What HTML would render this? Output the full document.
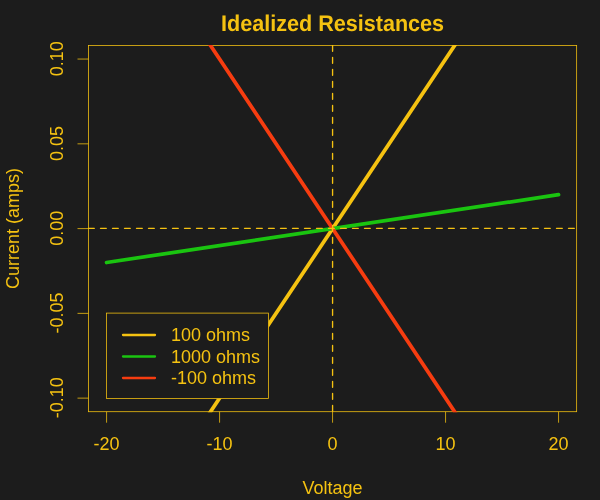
<!DOCTYPE html>
<html><head><meta charset="utf-8"><title>Idealized Resistances</title>
<style>
html,body{margin:0;padding:0;background:#1c1c1c;}
svg{display:block;will-change:transform}
text{font-family:"Liberation Sans",Arial,sans-serif;fill:#f5c211;}
</style></head><body>
<svg width="600" height="500" viewBox="0 0 600 500">
<rect width="600" height="500" fill="#1c1c1c"/>
<defs><clipPath id="c"><rect x="88.0" y="45.0" width="489.15" height="367.2"/></clipPath></defs>
<rect x="88.5" y="45.5" width="488.15" height="366.2" fill="none" stroke="#f5c211" stroke-width="0.78"/>
<g clip-path="url(#c)" fill="none" stroke-linecap="round">
<line x1="106.58" y1="567.67" x2="558.57" y2="-110.47" stroke="#f5c211" stroke-width="3.75"/>
<line x1="106.58" y1="262.51" x2="558.57" y2="194.69" stroke="#1ac410" stroke-width="3.75"/>
<line x1="106.58" y1="-110.47" x2="558.57" y2="567.67" stroke="#f63c10" stroke-width="3.75"/>
<line x1="88.5" y1="228.35" x2="576.65" y2="228.35" stroke="#f5c211" stroke-width="1.35" stroke-dasharray="5.8 6.2" stroke-linecap="round"/>
<line x1="332.575" y1="45.5" x2="332.575" y2="411.7" stroke="#f5c211" stroke-width="1.35" stroke-dasharray="5.8 6.2" stroke-linecap="round"/>
</g>

<line x1="106.58" y1="411.7" x2="106.58" y2="422.7" stroke="#f5c211" stroke-width="0.78"/>
<text x="106.58" y="450" font-size="18" text-anchor="middle">-20</text>
<line x1="219.58" y1="411.7" x2="219.58" y2="422.7" stroke="#f5c211" stroke-width="0.78"/>
<text x="219.58" y="450" font-size="18" text-anchor="middle">-10</text>
<line x1="332.57" y1="411.7" x2="332.57" y2="422.7" stroke="#f5c211" stroke-width="0.78"/>
<text x="332.57" y="450" font-size="18" text-anchor="middle">0</text>
<line x1="445.57" y1="411.7" x2="445.57" y2="422.7" stroke="#f5c211" stroke-width="0.78"/>
<text x="445.57" y="450" font-size="18" text-anchor="middle">10</text>
<line x1="558.57" y1="411.7" x2="558.57" y2="422.7" stroke="#f5c211" stroke-width="0.78"/>
<text x="558.57" y="450" font-size="18" text-anchor="middle">20</text>
<line x1="88.5" y1="398.14" x2="77.5" y2="398.14" stroke="#f5c211" stroke-width="0.78"/>
<text transform="translate(62.9,397.74) rotate(-90)" font-size="18" text-anchor="middle">-0.10</text>
<line x1="88.5" y1="313.37" x2="77.5" y2="313.37" stroke="#f5c211" stroke-width="0.78"/>
<text transform="translate(62.9,312.97) rotate(-90)" font-size="18" text-anchor="middle">-0.05</text>
<line x1="88.5" y1="228.60" x2="77.5" y2="228.60" stroke="#f5c211" stroke-width="0.78"/>
<text transform="translate(62.9,228.20) rotate(-90)" font-size="18" text-anchor="middle">0.00</text>
<line x1="88.5" y1="143.83" x2="77.5" y2="143.83" stroke="#f5c211" stroke-width="0.78"/>
<text transform="translate(62.9,143.43) rotate(-90)" font-size="18" text-anchor="middle">0.05</text>
<line x1="88.5" y1="59.06" x2="77.5" y2="59.06" stroke="#f5c211" stroke-width="0.78"/>
<text transform="translate(62.9,58.66) rotate(-90)" font-size="18" text-anchor="middle">0.10</text>
<text transform="translate(332.575,31) rotate(0.03) scale(1,1.05)" font-size="21.6" font-weight="bold" text-anchor="middle">Idealized Resistances</text>
<text x="332.575" y="494" font-size="18" text-anchor="middle">Voltage</text>
<text transform="translate(19,228.6) rotate(-90)" font-size="18" text-anchor="middle">Current (amps)</text>
<rect x="106.4" y="313.1" width="162.2" height="85.5" fill="#1c1c1c" stroke="#f5c211" stroke-width="0.78"/>
<line x1="123" y1="335.0" x2="155" y2="335.0" stroke="#f5c211" stroke-width="2.3" stroke-linecap="round"/>
<text x="171" y="341.0" font-size="18">100 ohms</text>
<line x1="123" y1="356.5" x2="155" y2="356.5" stroke="#1ac410" stroke-width="2.3" stroke-linecap="round"/>
<text x="171" y="362.5" font-size="18">1000 ohms</text>
<line x1="123" y1="378.0" x2="155" y2="378.0" stroke="#f63c10" stroke-width="2.3" stroke-linecap="round"/>
<text x="171" y="384.0" font-size="18">-100 ohms</text>
</svg></body></html>
